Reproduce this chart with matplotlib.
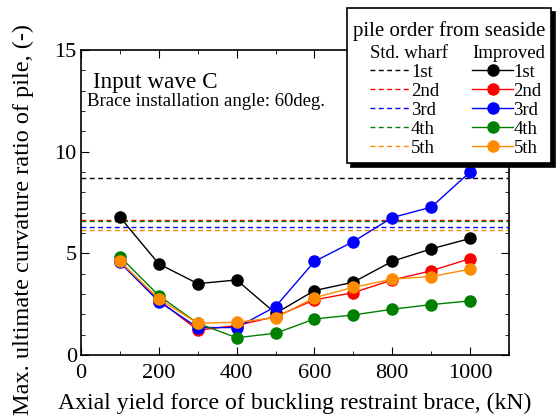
import matplotlib
matplotlib.use('Agg')
import matplotlib.pyplot as plt
import matplotlib.ticker as ticker
from matplotlib.lines import Line2D
from matplotlib.offsetbox import DrawingArea

plt.rcParams['font.family'] = ['Liberation Serif', 'DejaVu Serif']

FORCE = [100, 200, 300, 400, 500, 600, 700, 800, 900, 1000]
ORDER_LABELS = ['1st', '2nd', '3rd', '4th', '5th']
COLORS = ['black', 'red', 'blue', 'green', 'darkorange']

# Std. wharf (constant ratio per pile)
STD_WHARF = [8.72, 6.63, 6.29, 6.58, 6.16]

# Improved wharf
IMP_1ST = [6.78, 4.48, 3.51, 3.69, 2.05, 3.17, 3.58, 4.61, 5.22, 5.73]
IMP_2ND = [4.60, 2.70, 1.22, 1.45, 1.89, 2.71, 3.07, 3.69, 4.14, 4.74]
IMP_3RD = [4.55, 2.63, 1.35, 1.35, 2.38, 4.60, 5.58, 6.76, 7.27, 9.00]
IMP_4TH = [4.84, 2.92, 1.56, 0.85, 1.07, 1.77, 1.97, 2.25, 2.48, 2.66]
IMP_5TH = [4.60, 2.76, 1.56, 1.61, 1.84, 2.82, 3.33, 3.73, 3.86, 4.22]
IMPROVED = [IMP_1ST, IMP_2ND, IMP_3RD, IMP_4TH, IMP_5TH]

fig = plt.figure(figsize=(5.58, 4.18), dpi=100)
ax = fig.add_axes([0.1452, 0.1507, 0.767, 0.7297])

std_handles = []
imp_handles = []
for label, color, level in zip(ORDER_LABELS, COLORS, STD_WHARF):
    h = ax.axhline(level, color=color, linestyle=(0, (3.5, 2.5)), linewidth=1.0)
    std_handles.append(h)
for label, color, values in zip(ORDER_LABELS, COLORS, IMPROVED):
    h, = ax.plot(FORCE, values, color=color, marker='o', markersize=8,
                 linewidth=1.0)
    imp_handles.append(h)

ax.set_xlim(0, 1100)
ax.set_ylim(0, 15)
ax.xaxis.set_major_locator(ticker.FixedLocator([0, 200, 400, 600, 800, 1000]))
ax.xaxis.set_minor_locator(ticker.MultipleLocator(100))
ax.yaxis.set_major_locator(ticker.MultipleLocator(5))
ax.yaxis.set_minor_locator(ticker.MultipleLocator(1))
ax.tick_params(which='both', direction='in', top=True, right=True,
               labelsize=16)
ax.tick_params(axis='x', pad=6.5)
ax.tick_params(axis='y', pad=3)
ax.tick_params(which='major', length=6)
ax.tick_params(which='minor', length=3)
for s in ax.spines.values():
    s.set_linewidth(1.2)

ax.set_xlabel('Axial yield force of buckling restraint brace, (kN)',
              fontsize=17.1, labelpad=7)
ax.set_ylabel('Max. ultimate curvature ratio of pile, (-)', fontsize=17.5)
ax.yaxis.set_label_coords(-0.11, 0.443)

ax.text(0.028, 0.875, 'Input wave C', transform=ax.transAxes, fontsize=16.7,
        va='baseline')
ax.text(0.014, 0.816, 'Brace installation angle: 60deg.',
        transform=ax.transAxes, fontsize=13.5, va='baseline')

blank = Line2D([], [], color='none')
handles = [blank] + std_handles + [blank] + imp_handles
labels = ['Std. wharf'] + ORDER_LABELS + ['Improved'] + ORDER_LABELS
leg = fig.legend(handles, labels, ncol=2, loc='upper left',
                 bbox_to_anchor=(0.622, 0.981), borderaxespad=0,
                 title='pile order from seaside', title_fontsize=15,
                 fontsize=13.5, frameon=True, fancybox=False,
                 edgecolor='black', framealpha=1, alignment='right',
                 shadow={'color': 'black', 'alpha': 1, 'ox': 3, 'oy': -3},
                 handlelength=2.2, handletextpad=0.0, columnspacing=1.3,
                 labelspacing=0.1, borderpad=0.3)
leg.get_frame().set_linewidth(1.2)
leg._legend_box.sep = 3
# a little extra room above the title
leg._legend_box.get_children().insert(0, DrawingArea(1, 2.3))

# drop the empty handle box from the column headers
for col in leg._legend_handle_box.get_children():
    header = col.get_children()[0]
    header.get_children().pop(0)

fig.savefig('out.png', dpi=100)
